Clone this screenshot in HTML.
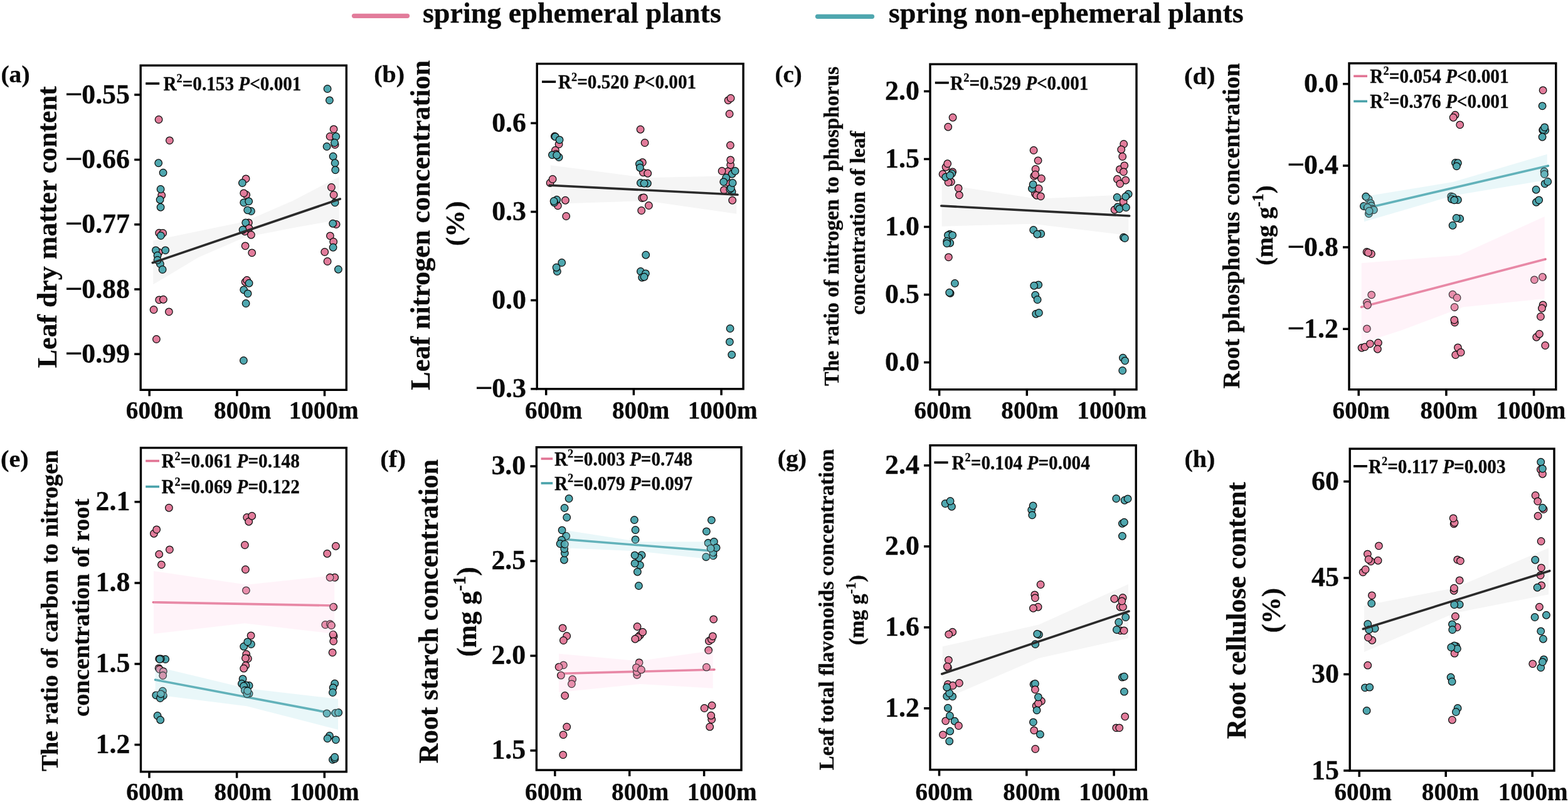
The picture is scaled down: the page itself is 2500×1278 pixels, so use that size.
<!DOCTYPE html>
<html lang="en">
<head>
<meta charset="utf-8">
<title>Figure</title>
<style>
html,body{margin:0;padding:0;background:#fff;}
body{width:2500px;height:1278px;overflow:hidden;}
svg{display:block;}
text{font-family:"Liberation Serif","Times New Roman",Times,serif;font-weight:bold;fill:#0a0a0a;stroke:#0a0a0a;stroke-width:0.3;}
.fr{fill:none;stroke:#000;stroke-width:3.4;}
.tk{stroke:#000;stroke-width:3.5;fill:none;}
.p circle,.t circle{stroke:#0c0c0c;stroke-width:1.25;}
.p circle{fill:#E27C9B;}
.t circle{fill:#4FA7AF;}
.ln{fill:none;stroke-linecap:round;stroke-width:3.6;}
</style>
</head>
<body>

<svg width="2500" height="1278" viewBox="0 0 2500 1278">
<rect width="2500" height="1278" fill="#fff"/>
<g id="legend">
<line x1="564.5" y1="25.3" x2="649.5" y2="25.3" stroke="#E27C9B" stroke-width="7.2" stroke-linecap="round"/>
<text x="673.9" y="35.6" font-size="46" textLength="476" lengthAdjust="spacingAndGlyphs">spring ephemeral plants</text>
<line x1="1303.5" y1="26.3" x2="1390.5" y2="26.3" stroke="#4FA7AF" stroke-width="7.2" stroke-linecap="round"/>
<text x="1416.7" y="35.6" font-size="46" textLength="566" lengthAdjust="spacingAndGlyphs">spring non-ephemeral plants</text>
</g>
<g id="panel-a">
<polygon points="244.3,383.3 316.7,368.3 390,353.3 466.7,320 540.7,281.7 540.7,350 466.7,363.3 390,378.3 316.7,410 244.3,453.3" fill="#f5f5f5"/>
<g class="p"><circle cx="253.1" cy="190.5" r="5.8"/><circle cx="270.4" cy="223.8" r="5.8"/><circle cx="257.7" cy="311.2" r="5.8"/><circle cx="253.7" cy="371.2" r="5.8"/><circle cx="259.7" cy="371.5" r="5.8"/><circle cx="253.1" cy="402.2" r="5.8"/><circle cx="253.7" cy="477.8" r="5.8"/><circle cx="260.4" cy="477.2" r="5.8"/><circle cx="245.1" cy="493.5" r="5.8"/><circle cx="269.4" cy="496.8" r="5.8"/></g>
<g class="t"><circle cx="252.7" cy="259.8" r="5.8"/><circle cx="260.1" cy="275.2" r="5.8"/><circle cx="256.1" cy="301.5" r="5.8"/><circle cx="255.1" cy="318.2" r="5.8"/><circle cx="256.1" cy="330.2" r="5.8"/><circle cx="256.4" cy="375.5" r="5.8"/><circle cx="248.4" cy="398.8" r="5.8"/><circle cx="263.7" cy="398.8" r="5.8"/><circle cx="251.1" cy="407.2" r="5.8"/><circle cx="255.4" cy="420.5" r="5.8"/><circle cx="251.1" cy="414.5" r="5.8"/><circle cx="259.1" cy="429.5" r="5.8"/></g>
<g class="p"><circle cx="392.1" cy="284.8" r="5.8"/></g>
<g class="t"><circle cx="386.4" cy="291.5" r="5.8"/></g>
<g class="p"><circle cx="392.7" cy="310.5" r="5.8"/><circle cx="388.7" cy="307.8" r="5.8"/></g>
<g class="t"><circle cx="388.7" cy="322.8" r="5.8"/><circle cx="396.7" cy="320.8" r="5.8"/><circle cx="400.4" cy="336.5" r="5.8"/><circle cx="394.7" cy="334.8" r="5.8"/></g>
<g class="p"><circle cx="396.4" cy="354.8" r="5.8"/></g>
<g class="t"><circle cx="391.7" cy="354.8" r="5.8"/></g>
<g class="p"><circle cx="390.4" cy="368.8" r="5.8"/><circle cx="397.1" cy="363.8" r="5.8"/></g>
<g class="t"><circle cx="387.1" cy="366.2" r="5.8"/></g>
<g class="p"><circle cx="400.4" cy="374.2" r="5.8"/><circle cx="391.1" cy="391.8" r="5.8"/><circle cx="401.7" cy="402.8" r="5.8"/><circle cx="391.1" cy="449.2" r="5.8"/><circle cx="393.7" cy="446.5" r="5.8"/></g>
<g class="t"><circle cx="397.1" cy="451.2" r="5.8"/><circle cx="388.7" cy="461.8" r="5.8"/><circle cx="395.1" cy="467.8" r="5.8"/><circle cx="392.1" cy="483.5" r="5.8"/><circle cx="522.1" cy="141.5" r="5.8"/><circle cx="525.4" cy="159.8" r="5.8"/></g>
<g class="p"><circle cx="532.1" cy="205.8" r="5.8"/><circle cx="526.1" cy="217.5" r="5.8"/><circle cx="534.1" cy="230.5" r="5.8"/></g>
<g class="t"><circle cx="535.7" cy="217.5" r="5.8"/><circle cx="533.4" cy="227.5" r="5.8"/><circle cx="521.1" cy="233.5" r="5.8"/><circle cx="531.1" cy="249.2" r="5.8"/><circle cx="534.1" cy="259.8" r="5.8"/><circle cx="534.7" cy="270.8" r="5.8"/></g>
<g class="p"><circle cx="528.4" cy="298.5" r="5.8"/><circle cx="532.1" cy="310.5" r="5.8"/></g>
<g class="t"><circle cx="534.1" cy="322.8" r="5.8"/></g>
<g class="p"><circle cx="536.1" cy="357.5" r="5.8"/></g>
<g class="t"><circle cx="530.7" cy="356.2" r="5.8"/></g>
<g class="p"><circle cx="526.4" cy="375.8" r="5.8"/><circle cx="531.7" cy="385.2" r="5.8"/></g>
<g class="t"><circle cx="531.1" cy="394.2" r="5.8"/></g>
<g class="p"><circle cx="517.7" cy="401.5" r="5.8"/><circle cx="522.1" cy="416.5" r="5.8"/></g>
<g class="t"><circle cx="539.4" cy="429.2" r="5.8"/></g>
<g class="p"><circle cx="249.4" cy="540.5" r="5.8"/></g>
<g class="t"><circle cx="388.4" cy="574.5" r="5.8"/></g>
<line class="ln" x1="243.3" y1="418.7" x2="542.3" y2="317" stroke="#2a2a2a"/>
<rect class="fr" x="224.2" y="104.3" width="328.1" height="517"/>
<path class="tk" d="M214.2 151.1H224.2M214.2 254.4H224.2M214.2 357.7H224.2M214.2 461H224.2M214.2 564.3H224.2M238.2 621.3V631.3M377.9 621.3V631.3M517.5 621.3V631.3"/>
<text x="207" y="164.6" font-size="45" text-anchor="end" textLength="76.8" lengthAdjust="spacingAndGlyphs">0.55</text>
<text x="103.8" y="164.6" font-size="45" textLength="28.2" lengthAdjust="spacingAndGlyphs" font-weight="normal">−</text>
<text x="207" y="267.9" font-size="45" text-anchor="end" textLength="76.8" lengthAdjust="spacingAndGlyphs">0.66</text>
<text x="103.8" y="267.9" font-size="45" textLength="28.2" lengthAdjust="spacingAndGlyphs" font-weight="normal">−</text>
<text x="207" y="371.2" font-size="45" text-anchor="end" textLength="76.8" lengthAdjust="spacingAndGlyphs">0.77</text>
<text x="103.8" y="371.2" font-size="45" textLength="28.2" lengthAdjust="spacingAndGlyphs" font-weight="normal">−</text>
<text x="207" y="474.5" font-size="45" text-anchor="end" textLength="76.8" lengthAdjust="spacingAndGlyphs">0.88</text>
<text x="103.8" y="474.5" font-size="45" textLength="28.2" lengthAdjust="spacingAndGlyphs" font-weight="normal">−</text>
<text x="207" y="577.8" font-size="45" text-anchor="end" textLength="76.8" lengthAdjust="spacingAndGlyphs">0.99</text>
<text x="103.8" y="577.8" font-size="45" textLength="28.2" lengthAdjust="spacingAndGlyphs" font-weight="normal">−</text>
<text x="246.5" y="667.1" font-size="40.2" text-anchor="middle" textLength="91.4" lengthAdjust="spacingAndGlyphs">600m</text>
<text x="386.7" y="667.1" font-size="40.2" text-anchor="middle" textLength="91.4" lengthAdjust="spacingAndGlyphs">800m</text>
<text x="516.2" y="667.1" font-size="40.2" text-anchor="middle" textLength="111" lengthAdjust="spacingAndGlyphs">1000m</text>
<text x="1.4" y="130.5" font-size="37" textLength="46.2" lengthAdjust="spacingAndGlyphs">(a)</text>
<text transform="translate(89.8 361.9) rotate(-90)" font-size="43.9" text-anchor="middle">Leaf dry matter content</text>
<line x1="232.2" y1="133.1" x2="254.2" y2="133.1" stroke="#000" stroke-width="3.6"/>
<text x="260.5" y="143.7" font-size="31" textLength="219.9" lengthAdjust="spacingAndGlyphs">R<tspan font-size="19.5" dy="-12.4">2</tspan><tspan dy="12.4">=0.153 </tspan><tspan font-style="italic">P</tspan>&lt;0.001</text>
</g>
<g id="panel-b">
<polygon points="877.7,263.3 1030,283.3 1174.3,280 1174.3,340.7 1030,320 877.7,325" fill="#f5f5f5"/>
<g class="p"><circle cx="884.4" cy="217.2" r="5.8"/></g>
<g class="t"><circle cx="885.4" cy="217.8" r="5.8"/></g>
<g class="p"><circle cx="891.1" cy="229.8" r="5.8"/></g>
<g class="t"><circle cx="892.1" cy="222.8" r="5.8"/></g>
<g class="p"><circle cx="885.4" cy="239.5" r="5.8"/><circle cx="886.4" cy="245.5" r="5.8"/></g>
<g class="t"><circle cx="880.4" cy="246.8" r="5.8"/><circle cx="891.1" cy="250.5" r="5.8"/><circle cx="887.7" cy="247.2" r="5.8"/></g>
<g class="p"><circle cx="877.1" cy="291.5" r="5.8"/><circle cx="881.1" cy="285.5" r="5.8"/><circle cx="889.4" cy="327.8" r="5.8"/><circle cx="901.4" cy="319.2" r="5.8"/></g>
<g class="t"><circle cx="887.7" cy="318.2" r="5.8"/><circle cx="883.7" cy="322.8" r="5.8"/><circle cx="883.1" cy="320.5" r="5.8"/></g>
<g class="p"><circle cx="902.7" cy="344.5" r="5.8"/></g>
<g class="t"><circle cx="895.7" cy="418.5" r="5.8"/><circle cx="888.4" cy="432.5" r="5.8"/><circle cx="887.1" cy="426.2" r="5.8"/></g>
<g class="p"><circle cx="1021.1" cy="206.2" r="5.8"/><circle cx="1028.1" cy="227.5" r="5.8"/><circle cx="1024.4" cy="258.8" r="5.8"/></g>
<g class="t"><circle cx="1019.4" cy="261.2" r="5.8"/></g>
<g class="p"><circle cx="1025.4" cy="274.8" r="5.8"/></g>
<g class="t"><circle cx="1020.4" cy="267.2" r="5.8"/></g>
<g class="p"><circle cx="1032.7" cy="276.2" r="5.8"/></g>
<g class="t"><circle cx="1021.4" cy="291.5" r="5.8"/><circle cx="1032.4" cy="292.2" r="5.8"/><circle cx="1027.1" cy="292.2" r="5.8"/></g>
<g class="p"><circle cx="1023.7" cy="315.5" r="5.8"/><circle cx="1026.4" cy="314.8" r="5.8"/><circle cx="1034.4" cy="327.5" r="5.8"/><circle cx="1022.7" cy="335.5" r="5.8"/></g>
<g class="t"><circle cx="1029.7" cy="406.2" r="5.8"/><circle cx="1021.4" cy="432.5" r="5.8"/><circle cx="1029.4" cy="435.8" r="5.8"/><circle cx="1023.7" cy="442.2" r="5.8"/><circle cx="1027.1" cy="441.2" r="5.8"/></g>
<g class="p"><circle cx="1161.1" cy="159.8" r="5.8"/><circle cx="1165.1" cy="156.5" r="5.8"/><circle cx="1163.1" cy="181.5" r="5.8"/><circle cx="1164.4" cy="231.5" r="5.8"/><circle cx="1164.7" cy="262.8" r="5.8"/><circle cx="1164.7" cy="254.8" r="5.8"/><circle cx="1160.4" cy="273.2" r="5.8"/><circle cx="1151.1" cy="272.5" r="5.8"/></g>
<g class="t"><circle cx="1167.1" cy="277.2" r="5.8"/><circle cx="1172.1" cy="272.5" r="5.8"/></g>
<g class="p"><circle cx="1160.4" cy="290.5" r="5.8"/></g>
<g class="t"><circle cx="1157.7" cy="283.2" r="5.8"/><circle cx="1153.7" cy="289.8" r="5.8"/></g>
<g class="p"><circle cx="1154.4" cy="302.8" r="5.8"/></g>
<g class="t"><circle cx="1167.1" cy="305.5" r="5.8"/><circle cx="1163.7" cy="301.5" r="5.8"/><circle cx="1165.4" cy="299.8" r="5.8"/><circle cx="1168.1" cy="291.5" r="5.8"/></g>
<g class="p"><circle cx="1167.7" cy="319.2" r="5.8"/></g>
<g class="t"><circle cx="1164.1" cy="523.5" r="5.8"/><circle cx="1163.4" cy="544.8" r="5.8"/><circle cx="1166.7" cy="565.2" r="5.8"/></g>
<line class="ln" x1="876" y1="295.3" x2="1176" y2="310.3" stroke="#2a2a2a"/>
<rect class="fr" x="856.2" y="101.6" width="328.9" height="518.2"/>
<path class="tk" d="M846.2 196.2H856.2M846.2 337.4H856.2M846.2 478.6H856.2M846.2 619.8H856.2M870.7 619.8V629.8M1010.4 619.8V629.8M1150.1 619.8V629.8"/>
<text x="839" y="209.7" font-size="45" text-anchor="end" textLength="54.8" lengthAdjust="spacingAndGlyphs">0.6</text>
<text x="839" y="350.9" font-size="45" text-anchor="end" textLength="54.8" lengthAdjust="spacingAndGlyphs">0.3</text>
<text x="839" y="492.1" font-size="45" text-anchor="end" textLength="54.8" lengthAdjust="spacingAndGlyphs">0.0</text>
<text x="839" y="633.3" font-size="45" text-anchor="end" textLength="54.8" lengthAdjust="spacingAndGlyphs">0.3</text>
<text x="757.7" y="633.3" font-size="45" textLength="28.2" lengthAdjust="spacingAndGlyphs" font-weight="normal">−</text>
<text x="882.8" y="667.1" font-size="40.2" text-anchor="middle" textLength="91.4" lengthAdjust="spacingAndGlyphs">600m</text>
<text x="1021.7" y="667.1" font-size="40.2" text-anchor="middle" textLength="91.4" lengthAdjust="spacingAndGlyphs">800m</text>
<text x="1152.2" y="667.1" font-size="40.2" text-anchor="middle" textLength="111" lengthAdjust="spacingAndGlyphs">1000m</text>
<text x="596.2" y="131.1" font-size="37" textLength="48.8" lengthAdjust="spacingAndGlyphs">(b)</text>
<text transform="translate(685.3 358.8) rotate(-90)" font-size="44.1" text-anchor="middle">Leaf nitrogen concentration</text>
<text transform="translate(739.5 356.2) rotate(-90)" font-size="43" text-anchor="middle">(%)</text>
<line x1="864" y1="130.3" x2="886.2" y2="130.3" stroke="#000" stroke-width="3.6"/>
<text x="889.9" y="140.9" font-size="31" textLength="220.3" lengthAdjust="spacingAndGlyphs">R<tspan font-size="19.5" dy="-12.4">2</tspan><tspan dy="12.4">=0.520 </tspan><tspan font-style="italic">P</tspan>&lt;0.001</text>
</g>
<g id="panel-c">
<polygon points="1501.7,293.3 1653.3,316.7 1799.3,310 1799.3,375 1646.7,356.7 1501.7,360.7" fill="#f5f5f5"/>
<g class="p"><circle cx="1519.1" cy="187.2" r="5.8"/><circle cx="1511.7" cy="202.2" r="5.8"/><circle cx="1508.1" cy="266.2" r="5.8"/><circle cx="1510.7" cy="260.8" r="5.8"/><circle cx="1503.1" cy="277.5" r="5.8"/><circle cx="1518.7" cy="273.8" r="5.8"/><circle cx="1516.4" cy="289.8" r="5.8"/><circle cx="1512.1" cy="290.5" r="5.8"/></g>
<g class="t"><circle cx="1517.7" cy="276.5" r="5.8"/><circle cx="1507.7" cy="282.2" r="5.8"/><circle cx="1514.7" cy="279.5" r="5.8"/></g>
<g class="p"><circle cx="1528.1" cy="299.8" r="5.8"/><circle cx="1529.4" cy="310.8" r="5.8"/></g>
<g class="t"><circle cx="1514.4" cy="373.2" r="5.8"/><circle cx="1511.4" cy="374.8" r="5.8"/><circle cx="1518.7" cy="374.8" r="5.8"/><circle cx="1514.7" cy="387.2" r="5.8"/><circle cx="1509.7" cy="384.5" r="5.8"/><circle cx="1509.7" cy="387.8" r="5.8"/></g>
<g class="p"><circle cx="1512.4" cy="409.8" r="5.8"/></g>
<g class="t"><circle cx="1522.4" cy="451.5" r="5.8"/><circle cx="1515.1" cy="467.2" r="5.8"/><circle cx="1513.7" cy="466.2" r="5.8"/></g>
<g class="p"><circle cx="1648.1" cy="239.5" r="5.8"/><circle cx="1655.1" cy="255.8" r="5.8"/><circle cx="1651.1" cy="269.5" r="5.8"/><circle cx="1648.7" cy="280.5" r="5.8"/><circle cx="1650.7" cy="278.2" r="5.8"/><circle cx="1660.4" cy="284.5" r="5.8"/><circle cx="1650.4" cy="308.8" r="5.8"/><circle cx="1652.7" cy="311.2" r="5.8"/><circle cx="1659.4" cy="312.8" r="5.8"/><circle cx="1656.1" cy="300.5" r="5.8"/></g>
<g class="t"><circle cx="1645.4" cy="300.5" r="5.8"/><circle cx="1647.1" cy="293.8" r="5.8"/><circle cx="1647.7" cy="366.5" r="5.8"/><circle cx="1659.7" cy="372.5" r="5.8"/><circle cx="1653.7" cy="373.2" r="5.8"/><circle cx="1655.7" cy="453.8" r="5.8"/><circle cx="1648.7" cy="455.2" r="5.8"/><circle cx="1650.7" cy="470.2" r="5.8"/><circle cx="1654.1" cy="477.5" r="5.8"/><circle cx="1651.7" cy="500.2" r="5.8"/><circle cx="1656.4" cy="498.5" r="5.8"/></g>
<g class="p"><circle cx="1791.7" cy="229.5" r="5.8"/><circle cx="1787.7" cy="238.2" r="5.8"/><circle cx="1789.7" cy="249.5" r="5.8"/><circle cx="1785.4" cy="269.8" r="5.8"/><circle cx="1792.7" cy="263.8" r="5.8"/><circle cx="1791.4" cy="273.8" r="5.8"/><circle cx="1781.4" cy="285.5" r="5.8"/><circle cx="1794.7" cy="287.2" r="5.8"/><circle cx="1785.7" cy="292.8" r="5.8"/><circle cx="1791.1" cy="321.5" r="5.8"/><circle cx="1777.1" cy="334.2" r="5.8"/></g>
<g class="t"><circle cx="1799.1" cy="309.2" r="5.8"/><circle cx="1781.1" cy="314.5" r="5.8"/><circle cx="1794.7" cy="313.2" r="5.8"/><circle cx="1782.1" cy="329.8" r="5.8"/><circle cx="1784.7" cy="332.8" r="5.8"/><circle cx="1795.4" cy="330.5" r="5.8"/><circle cx="1791.4" cy="378.2" r="5.8"/><circle cx="1793.4" cy="379.5" r="5.8"/><circle cx="1790.4" cy="570.2" r="5.8"/><circle cx="1793.7" cy="574.8" r="5.8"/><circle cx="1789.7" cy="590.5" r="5.8"/></g>
<line class="ln" x1="1500.7" y1="328" x2="1800.7" y2="344" stroke="#2a2a2a"/>
<rect class="fr" x="1483" y="102.3" width="329" height="518.4"/>
<path class="tk" d="M1473 145.6H1483M1473 253.6H1483M1473 361.6H1483M1473 469.6H1483M1473 577.5H1483M1497.6 620.7V630.7M1637.3 620.7V630.7M1777 620.7V630.7"/>
<text x="1465.8" y="159.1" font-size="45" text-anchor="end" textLength="54.8" lengthAdjust="spacingAndGlyphs">2.0</text>
<text x="1465.8" y="267.1" font-size="45" text-anchor="end" textLength="54.8" lengthAdjust="spacingAndGlyphs">1.5</text>
<text x="1465.8" y="375.1" font-size="45" text-anchor="end" textLength="54.8" lengthAdjust="spacingAndGlyphs">1.0</text>
<text x="1465.8" y="483.1" font-size="45" text-anchor="end" textLength="54.8" lengthAdjust="spacingAndGlyphs">0.5</text>
<text x="1465.8" y="591" font-size="45" text-anchor="end" textLength="54.8" lengthAdjust="spacingAndGlyphs">0.0</text>
<text x="1503.2" y="667.1" font-size="40.2" text-anchor="middle" textLength="91.4" lengthAdjust="spacingAndGlyphs">600m</text>
<text x="1642" y="667.1" font-size="40.2" text-anchor="middle" textLength="91.4" lengthAdjust="spacingAndGlyphs">800m</text>
<text x="1772.8" y="667.1" font-size="40.2" text-anchor="middle" textLength="111" lengthAdjust="spacingAndGlyphs">1000m</text>
<text x="1235.6" y="130.5" font-size="37" textLength="43.1" lengthAdjust="spacingAndGlyphs">(c)</text>
<text transform="translate(1337.4 360.3) rotate(-90)" font-size="33.4" text-anchor="middle">The ratio of nitrogen to phosphorus</text>
<text transform="translate(1379 355.2) rotate(-90)" font-size="33.4" text-anchor="middle">concentration of leaf</text>
<line x1="1490.8" y1="131.9" x2="1512.8" y2="131.9" stroke="#000" stroke-width="3.6"/>
<text x="1515.1" y="142.5" font-size="31" textLength="220.3" lengthAdjust="spacingAndGlyphs">R<tspan font-size="19.5" dy="-12.4">2</tspan><tspan dy="12.4">=0.529 </tspan><tspan font-style="italic">P</tspan>&lt;0.001</text>
</g>
<g id="panel-d">
<line class="ln" x1="2178.3" y1="331.7" x2="2468.3" y2="264.3" stroke="#4AA2AA"/>
<line class="ln" x1="2170.7" y1="489.3" x2="2464" y2="413" stroke="#E17494"/>
<g class="t"><circle cx="2182.1" cy="317.2" r="5.8"/><circle cx="2185.4" cy="323.8" r="5.8"/><circle cx="2177.7" cy="313.2" r="5.8"/><circle cx="2186.4" cy="327.8" r="5.8"/><circle cx="2174.4" cy="328.5" r="5.8"/><circle cx="2187.7" cy="332.8" r="5.8"/><circle cx="2190.4" cy="334.5" r="5.8"/><circle cx="2180.4" cy="330.5" r="5.8"/><circle cx="2182.4" cy="340.5" r="5.8"/><circle cx="2183.1" cy="336.2" r="5.8"/></g>
<g class="p"><circle cx="2179.1" cy="401.5" r="5.8"/><circle cx="2186.4" cy="404.5" r="5.8"/><circle cx="2181.4" cy="402.5" r="5.8"/><circle cx="2320.1" cy="183.2" r="5.8"/><circle cx="2317.1" cy="187.2" r="5.8"/><circle cx="2327.7" cy="198.8" r="5.8"/></g>
<g class="t"><circle cx="2320.4" cy="259.5" r="5.8"/><circle cx="2324.4" cy="259.8" r="5.8"/><circle cx="2322.4" cy="264.8" r="5.8"/><circle cx="2313.7" cy="312.8" r="5.8"/><circle cx="2316.4" cy="313.8" r="5.8"/><circle cx="2324.4" cy="318.5" r="5.8"/><circle cx="2314.4" cy="317.2" r="5.8"/><circle cx="2318.7" cy="318.8" r="5.8"/><circle cx="2327.7" cy="348.5" r="5.8"/><circle cx="2322.1" cy="347.5" r="5.8"/><circle cx="2316.1" cy="359.2" r="5.8"/></g>
<g class="p"><circle cx="2460.1" cy="143.8" r="5.8"/></g>
<g class="t"><circle cx="2459.1" cy="168.8" r="5.8"/></g>
<g class="p"><circle cx="2459.7" cy="207.2" r="5.8"/></g>
<g class="t"><circle cx="2463.7" cy="207.8" r="5.8"/><circle cx="2460.4" cy="206.5" r="5.8"/><circle cx="2462.7" cy="202.8" r="5.8"/><circle cx="2459.1" cy="218.2" r="5.8"/><circle cx="2462.1" cy="273.2" r="5.8"/><circle cx="2462.4" cy="277.5" r="5.8"/><circle cx="2463.1" cy="292.8" r="5.8"/><circle cx="2467.7" cy="289.5" r="5.8"/><circle cx="2449.1" cy="302.2" r="5.8"/><circle cx="2449.4" cy="322.2" r="5.8"/><circle cx="2453.7" cy="318.8" r="5.8"/></g>
<g class="p"><circle cx="2186.7" cy="469.8" r="5.8"/><circle cx="2179.4" cy="482.2" r="5.8"/><circle cx="2180.4" cy="486.2" r="5.8"/><circle cx="2179.4" cy="523.8" r="5.8"/><circle cx="2171.1" cy="554.2" r="5.8"/><circle cx="2176.1" cy="552.8" r="5.8"/><circle cx="2184.4" cy="547.8" r="5.8"/><circle cx="2197.4" cy="546.2" r="5.8"/><circle cx="2196.4" cy="556.2" r="5.8"/><circle cx="2316.1" cy="469.2" r="5.8"/><circle cx="2323.1" cy="474.5" r="5.8"/><circle cx="2319.1" cy="489.5" r="5.8"/><circle cx="2319.4" cy="513.8" r="5.8"/><circle cx="2318.7" cy="509.8" r="5.8"/><circle cx="2324.4" cy="553.8" r="5.8"/><circle cx="2320.7" cy="565.5" r="5.8"/><circle cx="2329.1" cy="561.5" r="5.8"/><circle cx="2459.4" cy="441.5" r="5.8"/><circle cx="2446.4" cy="445.8" r="5.8"/><circle cx="2460.1" cy="485.8" r="5.8"/><circle cx="2458.4" cy="491.2" r="5.8"/><circle cx="2456.4" cy="504.5" r="5.8"/><circle cx="2449.7" cy="537.2" r="5.8"/><circle cx="2454.4" cy="532.2" r="5.8"/><circle cx="2463.7" cy="550.5" r="5.8"/></g>
<polygon points="2175,313.3 2316.7,290 2466.7,245.7 2466.7,286.7 2316.7,311.7 2175,353.3" fill="rgba(170,226,231,0.26)"/>
<polygon points="2170.7,419.3 2326.7,406.7 2462.7,345 2462.7,476 2333.3,489.3 2233.3,526.7 2170.7,546.7" fill="rgba(255,203,230,0.23)"/>
<rect class="fr" x="2151" y="100.9" width="329.8" height="519.8"/>
<path class="tk" d="M2141 133.7H2151M2141 263.9H2151M2141 394H2151M2141 524.2H2151M2166.2 620.7V630.7M2305.9 620.7V630.7M2445.6 620.7V630.7"/>
<text x="2133.8" y="147.2" font-size="45" text-anchor="end" textLength="54.8" lengthAdjust="spacingAndGlyphs">0.0</text>
<text x="2133.8" y="277.4" font-size="45" text-anchor="end" textLength="54.8" lengthAdjust="spacingAndGlyphs">0.4</text>
<text x="2052.5" y="277.4" font-size="45" textLength="28.2" lengthAdjust="spacingAndGlyphs" font-weight="normal">−</text>
<text x="2133.8" y="407.5" font-size="45" text-anchor="end" textLength="54.8" lengthAdjust="spacingAndGlyphs">0.8</text>
<text x="2052.5" y="407.5" font-size="45" textLength="28.2" lengthAdjust="spacingAndGlyphs" font-weight="normal">−</text>
<text x="2133.8" y="537.7" font-size="45" text-anchor="end" textLength="54.8" lengthAdjust="spacingAndGlyphs">1.2</text>
<text x="2052.5" y="537.7" font-size="45" textLength="28.2" lengthAdjust="spacingAndGlyphs" font-weight="normal">−</text>
<text x="2170.3" y="667.1" font-size="40.2" text-anchor="middle" textLength="91.4" lengthAdjust="spacingAndGlyphs">600m</text>
<text x="2310.3" y="667.1" font-size="40.2" text-anchor="middle" textLength="91.4" lengthAdjust="spacingAndGlyphs">800m</text>
<text x="2440.8" y="667.1" font-size="40.2" text-anchor="middle" textLength="111" lengthAdjust="spacingAndGlyphs">1000m</text>
<text x="1888.1" y="133.8" font-size="37" textLength="49.2" lengthAdjust="spacingAndGlyphs">(d)</text>
<text transform="translate(1976.3 359.8) rotate(-90)" font-size="38.6" text-anchor="middle">Root phosphorus concentration</text>
<text transform="translate(2029 359.2) rotate(-90)" font-size="38.6" text-anchor="middle">(mg g<tspan font-size="25.9" dy="-15.5">-1</tspan><tspan dy="15.5">)</tspan></text>
<line x1="2158.2" y1="121.3" x2="2180" y2="121.3" stroke="#E17494" stroke-width="3.6"/>
<text x="2184.3" y="131.9" font-size="31" textLength="221.4" lengthAdjust="spacingAndGlyphs">R<tspan font-size="19.5" dy="-12.4">2</tspan><tspan dy="12.4">=0.054 </tspan><tspan font-style="italic">P</tspan>&lt;0.001</text>
<line x1="2158.2" y1="161.4" x2="2180" y2="161.4" stroke="#4AA2AA" stroke-width="3.6"/>
<text x="2184.3" y="172" font-size="31" textLength="221.4" lengthAdjust="spacingAndGlyphs">R<tspan font-size="19.5" dy="-12.4">2</tspan><tspan dy="12.4">=0.376 </tspan><tspan font-style="italic">P</tspan>&lt;0.001</text>
</g>
<g id="panel-e">
<line class="ln" x1="244.3" y1="959.7" x2="531.7" y2="965" stroke="#E17494"/>
<line class="ln" x1="247.7" y1="1083.3" x2="536.7" y2="1138" stroke="#4AA2AA"/>
<g class="p"><circle cx="269.4" cy="809.2" r="5.8"/><circle cx="245.4" cy="850.2" r="5.8"/><circle cx="249.7" cy="843.8" r="5.8"/><circle cx="270.4" cy="875.8" r="5.8"/><circle cx="253.7" cy="883.2" r="5.8"/><circle cx="257.4" cy="899.8" r="5.8"/><circle cx="253.7" cy="1049.8" r="5.8"/><circle cx="253.1" cy="1064.8" r="5.8"/><circle cx="254.4" cy="1066.5" r="5.8"/><circle cx="260.4" cy="1069.8" r="5.8"/><circle cx="259.7" cy="1076.5" r="5.8"/></g>
<g class="t"><circle cx="263.7" cy="1050.5" r="5.8"/><circle cx="256.4" cy="1049.8" r="5.8"/><circle cx="254.7" cy="1050.5" r="5.8"/></g>
<g class="p"><circle cx="393.7" cy="824.5" r="5.8"/><circle cx="396.7" cy="831.2" r="5.8"/><circle cx="401.7" cy="822.2" r="5.8"/><circle cx="390.4" cy="868.5" r="5.8"/><circle cx="391.4" cy="907.5" r="5.8"/><circle cx="392.4" cy="940.8" r="5.8"/><circle cx="400.1" cy="1012.8" r="5.8"/></g>
<g class="t"><circle cx="400.4" cy="1026.5" r="5.8"/><circle cx="388.7" cy="1030.2" r="5.8"/><circle cx="394.7" cy="1022.8" r="5.8"/></g>
<g class="p"><circle cx="392.7" cy="1042.5" r="5.8"/><circle cx="395.4" cy="1049.5" r="5.8"/><circle cx="391.4" cy="1048.8" r="5.8"/><circle cx="391.7" cy="1060.5" r="5.8"/><circle cx="388.7" cy="1065.2" r="5.8"/><circle cx="535.4" cy="870.2" r="5.8"/><circle cx="521.7" cy="882.2" r="5.8"/><circle cx="533.7" cy="920.2" r="5.8"/><circle cx="526.1" cy="920.2" r="5.8"/><circle cx="531.7" cy="967.2" r="5.8"/><circle cx="518.7" cy="995.5" r="5.8"/><circle cx="526.4" cy="994.5" r="5.8"/><circle cx="528.4" cy="996.5" r="5.8"/><circle cx="532.1" cy="1013.8" r="5.8"/><circle cx="531.1" cy="1011.2" r="5.8"/><circle cx="531.7" cy="1021.8" r="5.8"/><circle cx="530.1" cy="1039.8" r="5.8"/></g>
<g class="t"><circle cx="259.4" cy="1101.2" r="5.8"/><circle cx="248.7" cy="1107.8" r="5.8"/><circle cx="260.4" cy="1108.5" r="5.8"/><circle cx="255.4" cy="1112.5" r="5.8"/><circle cx="256.4" cy="1105.8" r="5.8"/><circle cx="251.1" cy="1140.5" r="5.8"/><circle cx="255.7" cy="1147.2" r="5.8"/><circle cx="387.1" cy="1081.8" r="5.8"/><circle cx="397.1" cy="1092.5" r="5.8"/><circle cx="385.4" cy="1089.5" r="5.8"/><circle cx="392.1" cy="1091.8" r="5.8"/><circle cx="388.7" cy="1093.2" r="5.8"/><circle cx="390.4" cy="1100.2" r="5.8"/><circle cx="397.1" cy="1105.2" r="5.8"/><circle cx="393.7" cy="1105.8" r="5.8"/><circle cx="394.7" cy="1100.8" r="5.8"/><circle cx="533.7" cy="1089.2" r="5.8"/><circle cx="531.1" cy="1095.8" r="5.8"/><circle cx="530.4" cy="1103.5" r="5.8"/><circle cx="521.1" cy="1136.8" r="5.8"/><circle cx="534.7" cy="1136.2" r="5.8"/><circle cx="539.7" cy="1135.5" r="5.8"/><circle cx="525.4" cy="1172.5" r="5.8"/><circle cx="522.1" cy="1176.8" r="5.8"/><circle cx="535.4" cy="1178.8" r="5.8"/><circle cx="530.4" cy="1210.5" r="5.8"/><circle cx="533.7" cy="1209.2" r="5.8"/><circle cx="533.7" cy="1206.5" r="5.8"/></g>
<polygon points="245,910 393.3,931.7 533.3,916.7 533.3,1010 390,993.3 245,1010" fill="rgba(255,203,230,0.23)"/>
<polygon points="247.7,1062 393.3,1097 539,1113.7 539,1162.7 393.3,1125.3 247.7,1107" fill="rgba(170,226,231,0.26)"/>
<rect class="fr" x="224.5" y="713.6" width="327.8" height="516.2"/>
<path class="tk" d="M214.5 799.7H224.5M214.5 928.9H224.5M214.5 1057.9H224.5M214.5 1186.8H224.5M238 1229.8V1239.8M377.6 1229.8V1239.8M517.3 1229.8V1239.8"/>
<text x="207.3" y="813.2" font-size="45" text-anchor="end" textLength="54.8" lengthAdjust="spacingAndGlyphs">2.1</text>
<text x="207.3" y="942.4" font-size="45" text-anchor="end" textLength="54.8" lengthAdjust="spacingAndGlyphs">1.8</text>
<text x="207.3" y="1071.4" font-size="45" text-anchor="end" textLength="54.8" lengthAdjust="spacingAndGlyphs">1.5</text>
<text x="207.3" y="1200.3" font-size="45" text-anchor="end" textLength="54.8" lengthAdjust="spacingAndGlyphs">1.2</text>
<text x="247" y="1275" font-size="40.2" text-anchor="middle" textLength="91.4" lengthAdjust="spacingAndGlyphs">600m</text>
<text x="387.3" y="1275" font-size="40.2" text-anchor="middle" textLength="91.4" lengthAdjust="spacingAndGlyphs">800m</text>
<text x="517.2" y="1275" font-size="40.2" text-anchor="middle" textLength="111" lengthAdjust="spacingAndGlyphs">1000m</text>
<text x="1.1" y="744.2" font-size="37" textLength="44.7" lengthAdjust="spacingAndGlyphs">(e)</text>
<text transform="translate(91.9 973.1) rotate(-90)" font-size="38.7" text-anchor="middle">The ratio of carbon to nitrogen</text>
<text transform="translate(141.8 968.2) rotate(-90)" font-size="38.7" text-anchor="middle">concentration of root</text>
<line x1="232.2" y1="734.5" x2="254" y2="734.5" stroke="#E17494" stroke-width="3.6"/>
<text x="257.5" y="745.1" font-size="31" textLength="220.3" lengthAdjust="spacingAndGlyphs">R<tspan font-size="19.5" dy="-12.4">2</tspan><tspan dy="12.4">=0.061 </tspan><tspan font-style="italic">P</tspan>=0.148</text>
<line x1="232.2" y1="775.5" x2="254" y2="775.5" stroke="#4AA2AA" stroke-width="3.6"/>
<text x="257.5" y="786.1" font-size="31" textLength="220.3" lengthAdjust="spacingAndGlyphs">R<tspan font-size="19.5" dy="-12.4">2</tspan><tspan dy="12.4">=0.069 </tspan><tspan font-style="italic">P</tspan>=0.122</text>
</g>
<g id="panel-f">
<line class="ln" x1="898.3" y1="859.3" x2="1140" y2="878.3" stroke="#4AA2AA"/>
<line class="ln" x1="896.7" y1="1073.3" x2="1139" y2="1067" stroke="#E17494"/>
<g class="t"><circle cx="907.1" cy="794.5" r="5.8"/><circle cx="900.1" cy="809.5" r="5.8"/><circle cx="903.7" cy="824.5" r="5.8"/><circle cx="896.1" cy="844.8" r="5.8"/><circle cx="902.7" cy="854.2" r="5.8"/><circle cx="895.4" cy="860.5" r="5.8"/><circle cx="899.4" cy="892.2" r="5.8"/><circle cx="900.4" cy="881.5" r="5.8"/><circle cx="899.7" cy="874.5" r="5.8"/><circle cx="893.1" cy="866.5" r="5.8"/><circle cx="900.4" cy="867.2" r="5.8"/><circle cx="1011.4" cy="828.5" r="5.8"/><circle cx="1013.1" cy="844.5" r="5.8"/><circle cx="1013.1" cy="859.8" r="5.8"/><circle cx="1023.1" cy="884.5" r="5.8"/><circle cx="1018.7" cy="888.8" r="5.8"/><circle cx="1012.1" cy="884.8" r="5.8"/><circle cx="1020.4" cy="900.5" r="5.8"/><circle cx="1012.1" cy="897.8" r="5.8"/><circle cx="1016.4" cy="911.2" r="5.8"/><circle cx="1018.4" cy="933.5" r="5.8"/><circle cx="1134.4" cy="828.8" r="5.8"/><circle cx="1126.4" cy="846.8" r="5.8"/><circle cx="1129.1" cy="865.2" r="5.8"/><circle cx="1138.4" cy="863.2" r="5.8"/><circle cx="1137.1" cy="885.5" r="5.8"/><circle cx="1137.1" cy="880.5" r="5.8"/><circle cx="1142.1" cy="872.8" r="5.8"/><circle cx="1133.1" cy="873.8" r="5.8"/><circle cx="1125.7" cy="887.5" r="5.8"/></g>
<g class="p"><circle cx="897.1" cy="1000.8" r="5.8"/><circle cx="903.7" cy="1013.5" r="5.8"/><circle cx="898.4" cy="1020.5" r="5.8"/><circle cx="898.4" cy="1059.8" r="5.8"/><circle cx="891.1" cy="1062.8" r="5.8"/><circle cx="894.4" cy="1076.2" r="5.8"/><circle cx="912.7" cy="1082.5" r="5.8"/><circle cx="911.4" cy="1089.8" r="5.8"/><circle cx="900.7" cy="1108.5" r="5.8"/><circle cx="1016.1" cy="998.5" r="5.8"/><circle cx="1020.4" cy="1012.2" r="5.8"/><circle cx="1017.1" cy="1015.5" r="5.8"/><circle cx="1024.7" cy="1007.2" r="5.8"/><circle cx="1012.7" cy="1018.2" r="5.8"/><circle cx="1019.1" cy="1055.8" r="5.8"/><circle cx="1015.7" cy="1075.5" r="5.8"/><circle cx="1015.4" cy="1070.5" r="5.8"/><circle cx="1014.4" cy="1063.8" r="5.8"/><circle cx="1022.4" cy="1067.2" r="5.8"/><circle cx="1137.7" cy="986.8" r="5.8"/><circle cx="1130.4" cy="1021.5" r="5.8"/><circle cx="1134.4" cy="1018.8" r="5.8"/><circle cx="1136.4" cy="1013.8" r="5.8"/><circle cx="1129.7" cy="1036.2" r="5.8"/><circle cx="1126.4" cy="1063.2" r="5.8"/><circle cx="903.7" cy="1158.2" r="5.8"/><circle cx="898.1" cy="1170.8" r="5.8"/><circle cx="897.7" cy="1202.8" r="5.8"/><circle cx="1135.1" cy="1124.2" r="5.8"/><circle cx="1123.1" cy="1128.5" r="5.8"/><circle cx="1134.7" cy="1146.5" r="5.8"/><circle cx="1133.7" cy="1140.2" r="5.8"/><circle cx="1131.7" cy="1158.2" r="5.8"/></g>
<polygon points="901.7,845 1020,863.3 1138.3,863.3 1138.3,891.7 1016.7,878.3 901.7,873.3" fill="rgba(170,226,231,0.26)"/>
<polygon points="891,1041.7 1018.3,1053.3 1136.7,1036.7 1136.7,1096.7 1020,1090 891,1103.3" fill="rgba(255,203,230,0.23)"/>
<rect class="fr" x="855.4" y="712.7" width="326.6" height="514.4"/>
<path class="tk" d="M845.4 742.9H855.4M845.4 893.9H855.4M845.4 1044.9H855.4M845.4 1195.9H855.4M884.8 1227.1V1237.1M1003.7 1227.1V1237.1M1122.6 1227.1V1237.1"/>
<text x="838.2" y="756.4" font-size="45" text-anchor="end" textLength="54.8" lengthAdjust="spacingAndGlyphs">3.0</text>
<text x="838.2" y="907.4" font-size="45" text-anchor="end" textLength="54.8" lengthAdjust="spacingAndGlyphs">2.5</text>
<text x="838.2" y="1058.4" font-size="45" text-anchor="end" textLength="54.8" lengthAdjust="spacingAndGlyphs">2.0</text>
<text x="838.2" y="1209.4" font-size="45" text-anchor="end" textLength="54.8" lengthAdjust="spacingAndGlyphs">1.5</text>
<text x="882.8" y="1275" font-size="40.2" text-anchor="middle" textLength="91.4" lengthAdjust="spacingAndGlyphs">600m</text>
<text x="1020.8" y="1275" font-size="40.2" text-anchor="middle" textLength="91.4" lengthAdjust="spacingAndGlyphs">800m</text>
<text x="1151.2" y="1275" font-size="40.2" text-anchor="middle" textLength="111" lengthAdjust="spacingAndGlyphs">1000m</text>
<text x="606.3" y="744.2" font-size="37" textLength="40.7" lengthAdjust="spacingAndGlyphs">(f)</text>
<text transform="translate(698 974.3) rotate(-90)" font-size="43.7" text-anchor="middle">Root starch concentration</text>
<text transform="translate(758.9 975) rotate(-90)" font-size="43.3" text-anchor="middle">(mg g<tspan font-size="29" dy="-17.3">-1</tspan><tspan dy="17.3">)</tspan></text>
<line x1="862.6" y1="731" x2="881.2" y2="731" stroke="#E17494" stroke-width="3.6"/>
<text x="883.9" y="741.6" font-size="31" textLength="220.3" lengthAdjust="spacingAndGlyphs">R<tspan font-size="19.5" dy="-12.4">2</tspan><tspan dy="12.4">=0.003 </tspan><tspan font-style="italic">P</tspan>=0.748</text>
<line x1="862.6" y1="770" x2="881.2" y2="770" stroke="#4AA2AA" stroke-width="3.6"/>
<text x="883.9" y="780.6" font-size="31" textLength="220.3" lengthAdjust="spacingAndGlyphs">R<tspan font-size="19.5" dy="-12.4">2</tspan><tspan dy="12.4">=0.079 </tspan><tspan font-style="italic">P</tspan>=0.097</text>
</g>
<g id="panel-g">
<polygon points="1502.7,1030.3 1656.7,995.3 1799,931 1799,1017 1656.7,1048.7 1502.7,1115.3" fill="#f5f5f5"/>
<g class="t"><circle cx="1507.1" cy="802.5" r="5.8"/><circle cx="1517.4" cy="807.2" r="5.8"/><circle cx="1515.1" cy="798.5" r="5.8"/></g>
<g class="p"><circle cx="1518.7" cy="1007.2" r="5.8"/><circle cx="1512.7" cy="1010.8" r="5.8"/><circle cx="1512.4" cy="1051.8" r="5.8"/><circle cx="1511.4" cy="1063.8" r="5.8"/><circle cx="1510.4" cy="1062.2" r="5.8"/></g>
<g class="t"><circle cx="1644.7" cy="812.5" r="5.8"/><circle cx="1645.7" cy="820.8" r="5.8"/><circle cx="1647.1" cy="805.8" r="5.8"/></g>
<g class="p"><circle cx="1659.1" cy="931.5" r="5.8"/><circle cx="1649.7" cy="947.8" r="5.8"/><circle cx="1650.4" cy="952.8" r="5.8"/><circle cx="1655.1" cy="967.2" r="5.8"/><circle cx="1647.4" cy="969.2" r="5.8"/></g>
<g class="t"><circle cx="1656.4" cy="1011.2" r="5.8"/><circle cx="1653.7" cy="1010.2" r="5.8"/><circle cx="1650.7" cy="1026.5" r="5.8"/><circle cx="1779.7" cy="794.5" r="5.8"/><circle cx="1793.1" cy="797.2" r="5.8"/><circle cx="1798.1" cy="794.8" r="5.8"/><circle cx="1789.4" cy="834.2" r="5.8"/><circle cx="1792.4" cy="832.2" r="5.8"/><circle cx="1789.4" cy="854.2" r="5.8"/></g>
<g class="p"><circle cx="1776.7" cy="954.2" r="5.8"/><circle cx="1790.1" cy="952.5" r="5.8"/><circle cx="1786.1" cy="967.2" r="5.8"/><circle cx="1790.4" cy="967.2" r="5.8"/><circle cx="1788.7" cy="957.8" r="5.8"/><circle cx="1786.4" cy="1004.8" r="5.8"/><circle cx="1792.1" cy="1004.8" r="5.8"/></g>
<g class="t"><circle cx="1794.7" cy="983.5" r="5.8"/><circle cx="1783.7" cy="991.5" r="5.8"/><circle cx="1780.4" cy="1003.5" r="5.8"/></g>
<g class="p"><circle cx="1511.4" cy="1090.5" r="5.8"/><circle cx="1519.1" cy="1092.5" r="5.8"/><circle cx="1529.4" cy="1088.5" r="5.8"/></g>
<g class="t"><circle cx="1509.7" cy="1109.5" r="5.8"/><circle cx="1518.7" cy="1109.8" r="5.8"/><circle cx="1513.7" cy="1104.5" r="5.8"/><circle cx="1509.7" cy="1095.2" r="5.8"/><circle cx="1511.4" cy="1128.2" r="5.8"/></g>
<g class="p"><circle cx="1507.7" cy="1148.8" r="5.8"/></g>
<g class="t"><circle cx="1514.4" cy="1140.5" r="5.8"/><circle cx="1522.1" cy="1149.2" r="5.8"/></g>
<g class="p"><circle cx="1528.4" cy="1156.5" r="5.8"/><circle cx="1503.4" cy="1170.8" r="5.8"/></g>
<g class="t"><circle cx="1514.7" cy="1165.2" r="5.8"/><circle cx="1513.7" cy="1181.2" r="5.8"/><circle cx="1648.1" cy="1090.5" r="5.8"/><circle cx="1650.4" cy="1089.5" r="5.8"/></g>
<g class="p"><circle cx="1650.4" cy="1098.8" r="5.8"/><circle cx="1660.4" cy="1117.2" r="5.8"/><circle cx="1652.1" cy="1124.8" r="5.8"/><circle cx="1655.4" cy="1120.8" r="5.8"/></g>
<g class="t"><circle cx="1655.4" cy="1110.8" r="5.8"/><circle cx="1653.1" cy="1131.8" r="5.8"/><circle cx="1647.4" cy="1150.8" r="5.8"/></g>
<g class="p"><circle cx="1648.7" cy="1163.8" r="5.8"/></g>
<g class="t"><circle cx="1658.4" cy="1170.2" r="5.8"/></g>
<g class="p"><circle cx="1650.7" cy="1193.5" r="5.8"/></g>
<g class="t"><circle cx="1789.4" cy="1079.2" r="5.8"/><circle cx="1792.4" cy="1078.2" r="5.8"/><circle cx="1792.4" cy="1102.2" r="5.8"/></g>
<g class="p"><circle cx="1793.7" cy="1141.8" r="5.8"/><circle cx="1779.7" cy="1159.8" r="5.8"/><circle cx="1784.7" cy="1159.8" r="5.8"/></g>
<line class="ln" x1="1501.7" y1="1074" x2="1800" y2="974" stroke="#2a2a2a"/>
<rect class="fr" x="1483" y="709.7" width="328.2" height="516.9"/>
<path class="tk" d="M1473 741.8H1483M1473 870.8H1483M1473 999.8H1483M1473 1128.8H1483M1497.5 1226.6V1236.6M1636.8 1226.6V1236.6M1776.1 1226.6V1236.6"/>
<text x="1465.8" y="755.3" font-size="45" text-anchor="end" textLength="54.8" lengthAdjust="spacingAndGlyphs">2.4</text>
<text x="1465.8" y="884.3" font-size="45" text-anchor="end" textLength="54.8" lengthAdjust="spacingAndGlyphs">2.0</text>
<text x="1465.8" y="1013.3" font-size="45" text-anchor="end" textLength="54.8" lengthAdjust="spacingAndGlyphs">1.6</text>
<text x="1465.8" y="1142.3" font-size="45" text-anchor="end" textLength="54.8" lengthAdjust="spacingAndGlyphs">1.2</text>
<text x="1505.3" y="1275" font-size="40.2" text-anchor="middle" textLength="91.4" lengthAdjust="spacingAndGlyphs">600m</text>
<text x="1645" y="1275" font-size="40.2" text-anchor="middle" textLength="91.4" lengthAdjust="spacingAndGlyphs">800m</text>
<text x="1775.8" y="1275" font-size="40.2" text-anchor="middle" textLength="111" lengthAdjust="spacingAndGlyphs">1000m</text>
<text x="1239.7" y="743.1" font-size="37" textLength="46.4" lengthAdjust="spacingAndGlyphs">(g)</text>
<text transform="translate(1329.2 971.5) rotate(-90)" font-size="34.3" text-anchor="middle">Leaf total flavonoids concentration</text>
<text transform="translate(1377.3 972.2) rotate(-90)" font-size="33.8" text-anchor="middle">(mg g<tspan font-size="22.6" dy="-13.5">-1</tspan><tspan dy="13.5">)</tspan></text>
<line x1="1489.4" y1="737" x2="1511.6" y2="737" stroke="#000" stroke-width="3.6"/>
<text x="1517.5" y="747.6" font-size="31" textLength="220.3" lengthAdjust="spacingAndGlyphs">R<tspan font-size="19.5" dy="-12.4">2</tspan><tspan dy="12.4">=0.104 </tspan><tspan font-style="italic">P</tspan>=0.004</text>
</g>
<g id="panel-h">
<polygon points="2175,965 2320,936.7 2469,873.3 2469,947.3 2320,976.7 2175,1039" fill="#f5f5f5"/>
<g class="p"><circle cx="2198.4" cy="869.8" r="5.8"/><circle cx="2180.4" cy="882.8" r="5.8"/><circle cx="2185.7" cy="894.5" r="5.8"/><circle cx="2197.1" cy="893.2" r="5.8"/><circle cx="2182.1" cy="891.5" r="5.8"/><circle cx="2173.1" cy="911.8" r="5.8"/><circle cx="2177.1" cy="907.5" r="5.8"/><circle cx="2187.4" cy="948.8" r="5.8"/></g>
<g class="t"><circle cx="2186.7" cy="961.5" r="5.8"/></g>
<g class="p"><circle cx="2187.7" cy="1020.2" r="5.8"/><circle cx="2181.4" cy="1015.8" r="5.8"/></g>
<g class="t"><circle cx="2180.7" cy="994.5" r="5.8"/><circle cx="2192.1" cy="1001.5" r="5.8"/><circle cx="2182.7" cy="1003.5" r="5.8"/></g>
<g class="p"><circle cx="2180.7" cy="1060.2" r="5.8"/></g>
<g class="t"><circle cx="2176.4" cy="1095.8" r="5.8"/><circle cx="2183.7" cy="1095.2" r="5.8"/></g>
<g class="p"><circle cx="2318.1" cy="834.8" r="5.8"/><circle cx="2319.1" cy="832.8" r="5.8"/><circle cx="2317.1" cy="825.8" r="5.8"/><circle cx="2323.7" cy="891.8" r="5.8"/><circle cx="2328.4" cy="893.8" r="5.8"/><circle cx="2327.1" cy="924.8" r="5.8"/><circle cx="2318.1" cy="941.2" r="5.8"/><circle cx="2318.4" cy="937.2" r="5.8"/></g>
<g class="t"><circle cx="2327.1" cy="963.2" r="5.8"/><circle cx="2318.7" cy="963.5" r="5.8"/></g>
<g class="p"><circle cx="2320.4" cy="982.2" r="5.8"/><circle cx="2323.1" cy="999.5" r="5.8"/></g>
<g class="t"><circle cx="2315.4" cy="994.8" r="5.8"/><circle cx="2315.7" cy="1003.5" r="5.8"/></g>
<g class="p"><circle cx="2319.1" cy="1041.2" r="5.8"/></g>
<g class="t"><circle cx="2321.7" cy="1029.8" r="5.8"/><circle cx="2318.7" cy="1028.8" r="5.8"/><circle cx="2323.4" cy="1033.8" r="5.8"/><circle cx="2313.7" cy="1031.5" r="5.8"/><circle cx="2313.1" cy="1079.2" r="5.8"/><circle cx="2315.1" cy="1086.2" r="5.8"/><circle cx="2456.7" cy="736.2" r="5.8"/></g>
<g class="p"><circle cx="2456.4" cy="748.2" r="5.8"/><circle cx="2459.4" cy="755.2" r="5.8"/></g>
<g class="t"><circle cx="2459.4" cy="746.8" r="5.8"/></g>
<g class="p"><circle cx="2448.1" cy="789.5" r="5.8"/><circle cx="2451.7" cy="798.8" r="5.8"/><circle cx="2461.1" cy="811.5" r="5.8"/></g>
<g class="t"><circle cx="2459.4" cy="809.2" r="5.8"/></g>
<g class="p"><circle cx="2452.1" cy="822.2" r="5.8"/><circle cx="2457.1" cy="862.5" r="5.8"/></g>
<g class="t"><circle cx="2447.7" cy="892.2" r="5.8"/></g>
<g class="p"><circle cx="2457.4" cy="904.8" r="5.8"/><circle cx="2456.1" cy="916.8" r="5.8"/><circle cx="2457.7" cy="932.8" r="5.8"/></g>
<g class="t"><circle cx="2451.1" cy="936.2" r="5.8"/></g>
<g class="p"><circle cx="2454.4" cy="967.2" r="5.8"/></g>
<g class="t"><circle cx="2465.4" cy="980.2" r="5.8"/><circle cx="2447.1" cy="983.5" r="5.8"/><circle cx="2456.7" cy="1005.8" r="5.8"/><circle cx="2460.4" cy="1018.2" r="5.8"/><circle cx="2461.4" cy="1050.8" r="5.8"/></g>
<g class="p"><circle cx="2443.7" cy="1057.8" r="5.8"/></g>
<g class="t"><circle cx="2456.7" cy="1063.8" r="5.8"/><circle cx="2459.4" cy="1054.8" r="5.8"/><circle cx="2179.1" cy="1132.5" r="5.8"/><circle cx="2324.1" cy="1128.5" r="5.8"/><circle cx="2321.4" cy="1134.5" r="5.8"/></g>
<g class="p"><circle cx="2315.4" cy="1147.2" r="5.8"/></g>
<line class="ln" x1="2173.3" y1="1002.3" x2="2470.7" y2="909.7" stroke="#2a2a2a"/>
<rect class="fr" x="2152.2" y="715.1" width="325.8" height="513"/>
<path class="tk" d="M2142.2 767.3H2152.2M2142.2 920.9H2152.2M2142.2 1074.5H2152.2M2142.2 1228.1H2152.2M2167.2 1228.1V1238.1M2305.2 1228.1V1238.1M2443.2 1228.1V1238.1"/>
<text x="2135" y="780.8" font-size="45" text-anchor="end" textLength="43.9" lengthAdjust="spacingAndGlyphs">60</text>
<text x="2135" y="934.4" font-size="45" text-anchor="end" textLength="43.9" lengthAdjust="spacingAndGlyphs">45</text>
<text x="2135" y="1088" font-size="45" text-anchor="end" textLength="43.9" lengthAdjust="spacingAndGlyphs">30</text>
<text x="2135" y="1241.6" font-size="45" text-anchor="end" textLength="43.9" lengthAdjust="spacingAndGlyphs">15</text>
<text x="2173.2" y="1275" font-size="40.2" text-anchor="middle" textLength="91.4" lengthAdjust="spacingAndGlyphs">600m</text>
<text x="2312.5" y="1275" font-size="40.2" text-anchor="middle" textLength="91.4" lengthAdjust="spacingAndGlyphs">800m</text>
<text x="2444.2" y="1275" font-size="40.2" text-anchor="middle" textLength="111" lengthAdjust="spacingAndGlyphs">1000m</text>
<text x="1888.4" y="744.2" font-size="37" textLength="49" lengthAdjust="spacingAndGlyphs">(h)</text>
<text transform="translate(1986.4 972.8) rotate(-90)" font-size="43.9" text-anchor="middle">Root cellulose content</text>
<text transform="translate(2040.5 972.8) rotate(-90)" font-size="43" text-anchor="middle">(%)</text>
<line x1="2158" y1="742.9" x2="2180" y2="742.9" stroke="#000" stroke-width="3.6"/>
<text x="2181.9" y="753.5" font-size="31" textLength="218.6" lengthAdjust="spacingAndGlyphs">R<tspan font-size="19.5" dy="-12.4">2</tspan><tspan dy="12.4">=0.117 </tspan><tspan font-style="italic">P</tspan>=0.003</text>
</g>
</svg>
</body>
</html>
